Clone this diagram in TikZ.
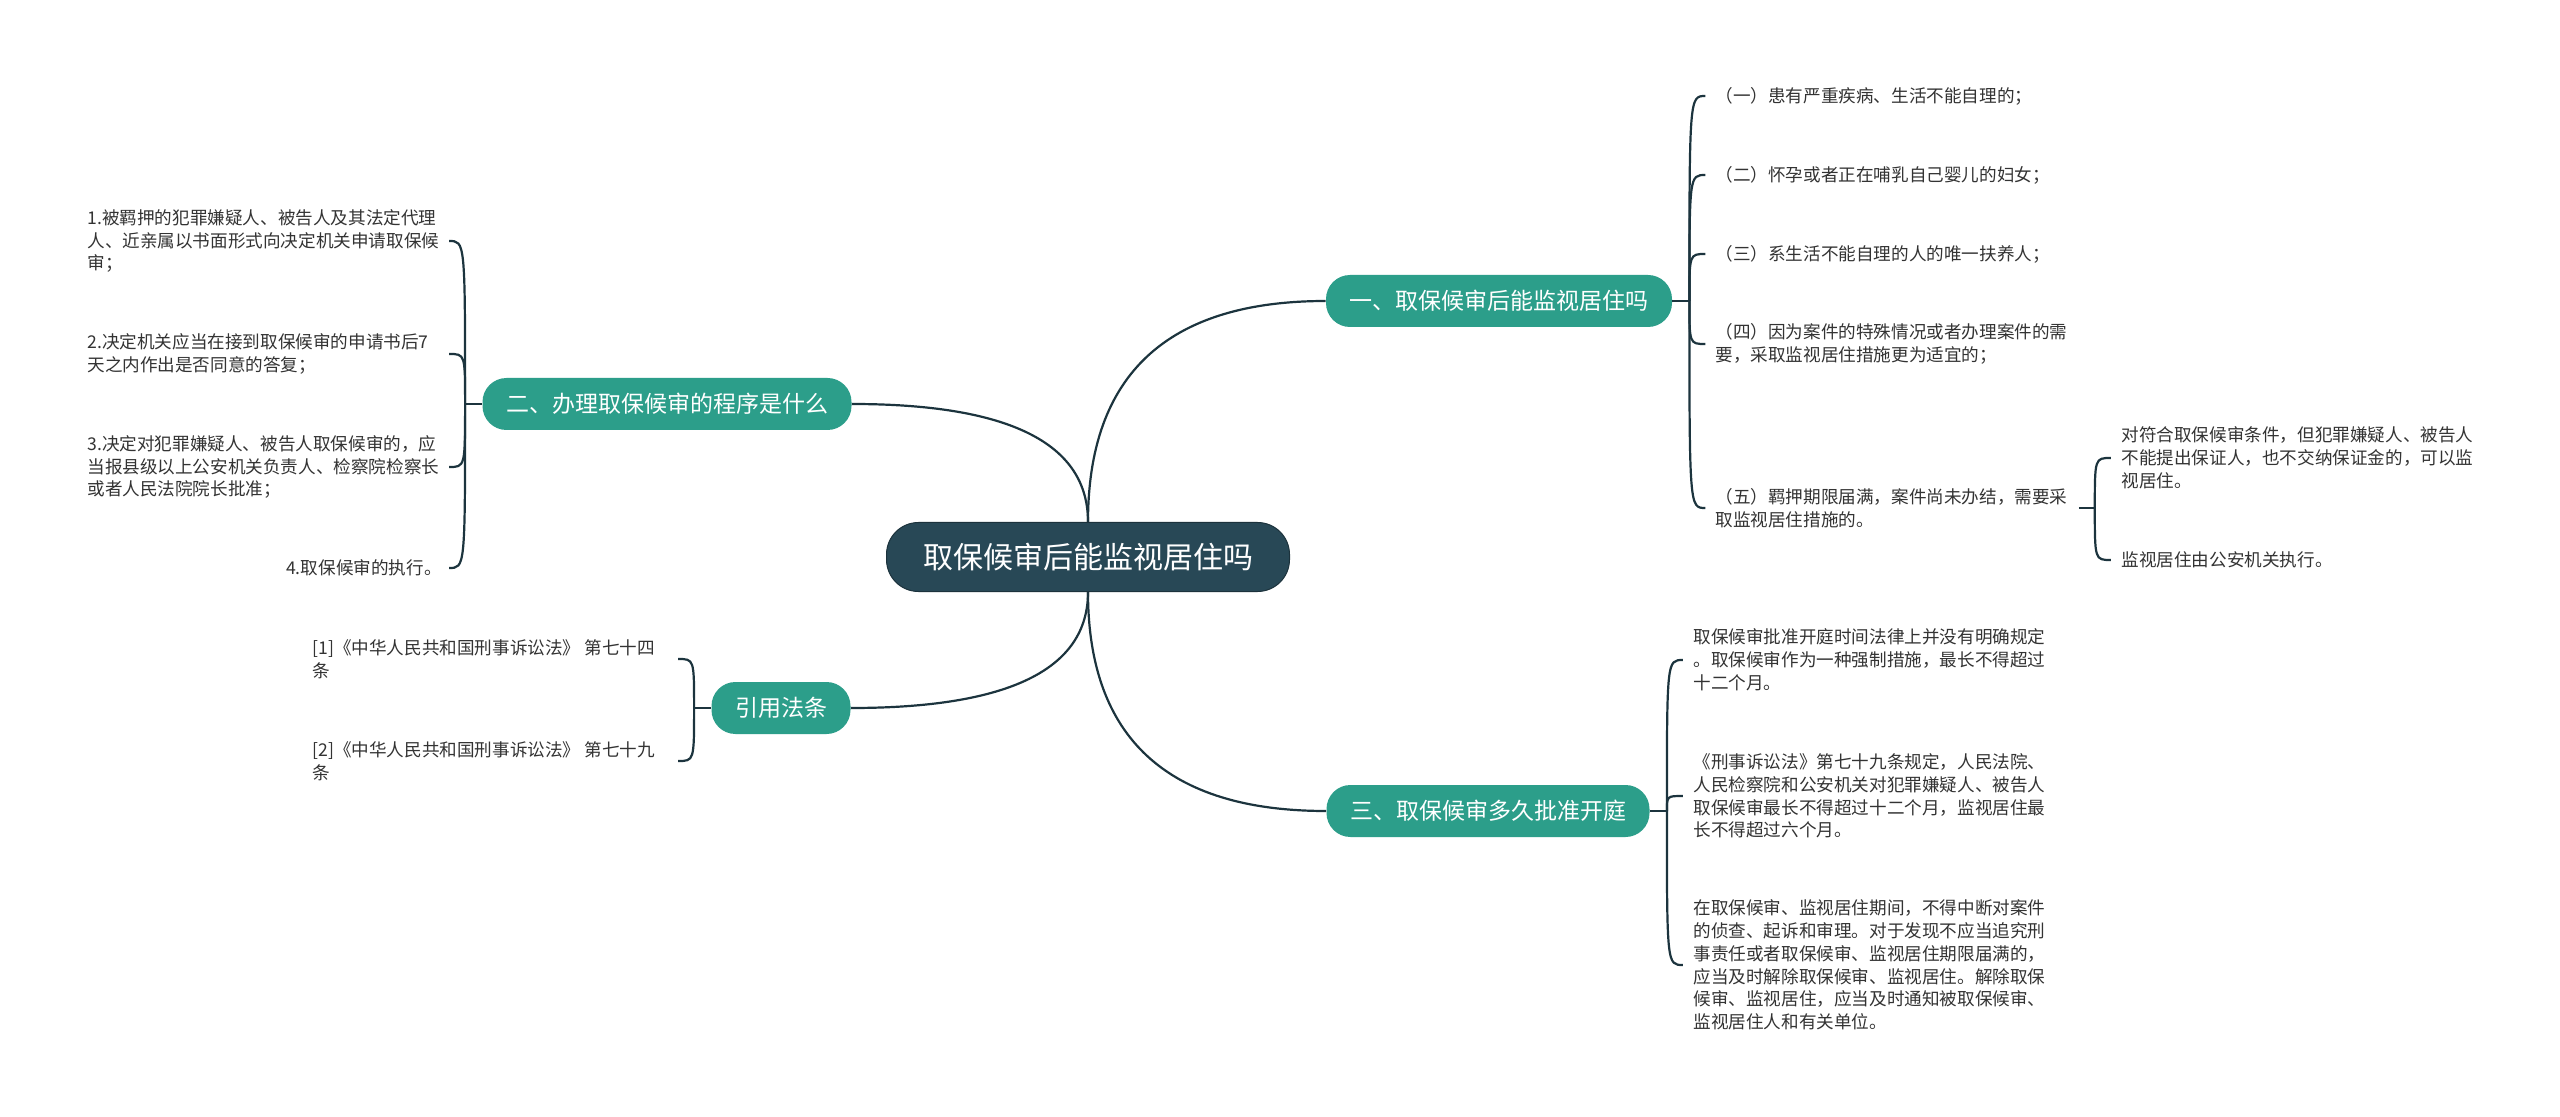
\documentclass[tikz,border=0pt]{standalone}
\usepackage{fontspec}
\newfontfamily\cjk{Noto Sans CJK SC}
\usetikzlibrary{calc}
\definecolor{rootc}{RGB}{40,72,86}
\definecolor{branchc}{RGB}{44,158,138}
\definecolor{linec}{RGB}{28,52,62}
\definecolor{textc}{RGB}{51,51,51}
\begin{document}
\begin{tikzpicture}[x=0.5pt,y=-0.5pt,
  root/.style={fill=rootc, draw=rootc!70!black, line width=0.5pt, rounded corners=16pt, text=white,
    font=\cjk\fontsize{15pt}{18pt}\selectfont, minimum width=201.5pt, minimum height=34.5pt, inner sep=0pt},
  branch/.style={fill=branchc, rounded corners=12pt, text=white,
    font=\cjk\fontsize{11.5pt}{14pt}\selectfont, minimum height=26pt, inner xsep=11.75pt, inner ysep=0pt},
  leaf/.style={text=textc, font=\cjk\fontsize{8.8pt}{11.4pt}\selectfont, align=left, inner sep=0pt},
  conn/.style={draw=linec, line width=1.1pt},
]
\fill[white] (0,0) rectangle (2560,1117);
\useasboundingbox (0,0) rectangle (2560,1117);

% root and branches
\node[root] (root) at (1088,557) {取保候审后能监视居住吗};
\node[branch] (b1) at (1499,301) {一、取保候审后能监视居住吗};
\node[branch] (b2) at (667,404) {二、办理取保候审的程序是什么};
\node[branch] (b3) at (781,708) {引用法条};
\node[branch] (b4) at (1488,811) {三、取保候审多久批准开庭};

\draw[conn] (root.north) .. controls ($(root.north)!0.667!(root.north |- b2.east)$) and ($(b2.east)!0.667!(root.north |- b2.east)$) .. (b2.east);
\draw[conn] (root.north) .. controls ($(root.north)!0.667!(root.north |- b1.west)$) and ($(b1.west)!0.667!(root.north |- b1.west)$) .. (b1.west);
\draw[conn] (root.south) .. controls ($(root.south)!0.667!(root.south |- b3.east)$) and ($(b3.east)!0.667!(root.south |- b3.east)$) .. (b3.east);
\draw[conn] (root.south) .. controls ($(root.south)!0.667!(root.south |- b4.west)$) and ($(b4.west)!0.667!(root.south |- b4.west)$) .. (b4.west);

% branch 1 leaves
\node[leaf, anchor=west] (l11) at (1715,96) {（一）患有严重疾病、生活不能自理的；};
\node[leaf, anchor=west] (l12) at (1715,175) {（二）怀孕或者正在哺乳自己婴儿的妇女；};
\node[leaf, anchor=west] (l13) at (1715,254) {（三）系生活不能自理的人的唯一扶养人；};
\node[leaf, anchor=west] (l14) at (1715,344) {（四）因为案件的特殊情况或者办理案件的需\\要，采取监视居住措施更为适宜的；};
\node[leaf, anchor=west] (l15) at (1715,508) {（五）羁押期限届满，案件尚未办结，需要采\\取监视居住措施的。};
\coordinate (s1) at ($(b1.east)+(17,0)$);
\draw[conn] (b1.east) -- (s1);
\foreach \n in {l11,l12,l13,l14,l15}
  \draw[conn] (s1) .. controls (s1 |- \n.west) and (s1 |- \n.west) .. ($(s1 |- \n.west)+(16,0)$);

% sub leaves of (五)
\node[leaf, anchor=west] (l151) at (2121,458) {对符合取保候审条件，但犯罪嫌疑人、被告人\\不能提出保证人，也不交纳保证金的，可以监\\视居住。};
\node[leaf, anchor=west] (l152) at (2121,560) {监视居住由公安机关执行。};
\coordinate (s15) at ($(l15.east)+(27,0)$);
\draw[conn] ($(l15.east)+(11,0)$) -- (s15);
\foreach \n in {l151,l152}
  \draw[conn] (s15) .. controls (s15 |- \n.west) and (s15 |- \n.west) .. ($(s15 |- \n.west)+(16,0)$);

% branch 2 leaves (left)
\node[leaf, anchor=west] (l21) at (87,241) {1.被羁押的犯罪嫌疑人、被告人及其法定代理\\人、近亲属以书面形式向决定机关申请取保候\\审；};
\node[leaf, anchor=west] (l22) at (87,354) {2.决定机关应当在接到取保候审的申请书后7\\天之内作出是否同意的答复；};
\node[leaf, anchor=west] (l23) at (87,467) {3.决定对犯罪嫌疑人、被告人取保候审的，应\\当报县级以上公安机关负责人、检察院检察长\\或者人民法院院长批准；};
\node[leaf, anchor=east] (l24) at (442,568) {4.取保候审的执行。};
\coordinate (s2) at ($(b2.west)+(-17,0)$);
\draw[conn] (b2.west) -- (s2);
\foreach \n in {l21,l22,l23,l24}
  \draw[conn] (s2) .. controls (s2 |- \n.east) and (s2 |- \n.east) .. ($(s2 |- \n.east)+(-16,0)$);

% citations
\node[leaf, anchor=west] (l31) at (312,659) {[1]《中华人民共和国刑事诉讼法》 第七十四\\条};
\node[leaf, anchor=west] (l32) at (312,761) {[2]《中华人民共和国刑事诉讼法》 第七十九\\条};
\coordinate (s3) at ($(b3.west)+(-17,0)$);
\draw[conn] (b3.west) -- (s3);
\foreach \n in {l31,l32}
  \draw[conn] (s3) .. controls (s3 |- \n.east) and (s3 |- \n.east) .. ($(s3 |- \n.east)+(-16,0)$);

% branch 3 leaves
\node[leaf, anchor=west] (l41) at (1693,660) {取保候审批准开庭时间法律上并没有明确规定\\。取保候审作为一种强制措施，最长不得超过\\十二个月。};
\node[leaf, anchor=west] (l42) at (1693,796) {《刑事诉讼法》第七十九条规定，人民法院、\\人民检察院和公安机关对犯罪嫌疑人、被告人\\取保候审最长不得超过十二个月，监视居住最\\长不得超过六个月。};
\node[leaf, anchor=west] (l43) at (1693,965) {在取保候审、监视居住期间，不得中断对案件\\的侦查、起诉和审理。对于发现不应当追究刑\\事责任或者取保候审、监视居住期限届满的，\\应当及时解除取保候审、监视居住。解除取保\\候审、监视居住，应当及时通知被取保候审、\\监视居住人和有关单位。};
\coordinate (s4) at ($(b4.east)+(17,0)$);
\draw[conn] (b4.east) -- (s4);
\foreach \n in {l41,l42,l43}
  \draw[conn] (s4) .. controls (s4 |- \n.west) and (s4 |- \n.west) .. ($(s4 |- \n.west)+(16,0)$);
\end{tikzpicture}
\end{document}
